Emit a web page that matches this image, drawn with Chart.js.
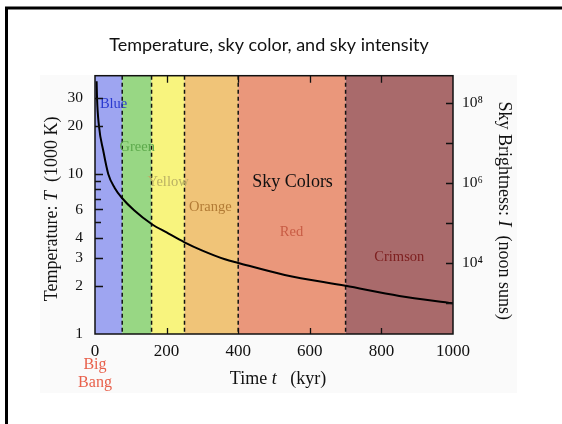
<!DOCTYPE html>
<html>
<head>
<meta charset="utf-8">
<script src="https://cdn.jsdelivr.net/npm/chart.js@4.4.1/dist/chart.umd.min.js"></script>
<style>
  html, body { margin: 0; padding: 0; background: #fff; }
  canvas { display: block; }
</style>
</head>
<body>
<canvas id="myChart" width="562" height="424"></canvas>
<script>
    /* Data */

var timeKyr = [4.5, 5.6, 11, 23, 37, 55, 76, 110, 158, 200, 250, 300, 363, 400, 530, 700, 850, 1000];
var tempK1000 = [38, 30, 20, 14, 10, 8.17, 7.05, 5.91, 4.87, 4.31, 3.74, 3.32, 2.93, 2.78, 2.34, 2.0, 1.73, 1.556];

var colorNames = ["Blue", "Green", "Yellow", "Orange", "Red", "Crimson"];
var colorEdges = [0, 76, 158, 250, 400, 700, 1000];

var xTicks = [0, 200, 400, 600, 800, 1000];
var tempTicks = [1, 2, 3, 4, 5, 6, 7, 8, 9, 10, 20, 30];
var tempLabels = [1, 2, 3, 4, 6, 10, 20, 30];
var skyTicks = [1e3, 1e4, 1e5, 1e6, 1e7, 1e8];
var skyLabels = { 10000: "10\u2074", 1000000: "10\u2076", 100000000: "10\u2078" };

    /* Look of the bands and their names */

var bandFill = ["#9ea5f1", "#98d784", "#f8f47e", "#f0c478", "#ea977b", "#a96a6b"];
var nameColor = ["#2a3ad0", "#5daa4c", "#b9b064", "#b27b35", "#c85c44", "#7e2020"];
var namePos = [[52, 27.3], [118, 14.7], [204, 8.87], [322, 6.16], [549, 4.30], [850, 3.0]];

var serif = "'Liberation Serif', 'Times New Roman', serif";

function drawParts(ctx, parts, cx, cy, angle) {
    var total = 0;
    parts.forEach(function (p) { ctx.font = p[1]; total += ctx.measureText(p[0]).width; });
    ctx.save();
    ctx.translate(cx, cy);
    ctx.rotate(angle);
    ctx.textAlign = "left";
    ctx.textBaseline = "middle";
    ctx.fillStyle = "#111";
    var x = -total / 2;
    parts.forEach(function (p) {
        ctx.font = p[1];
        ctx.fillText(p[0], x, 0);
        x += ctx.measureText(p[0]).width;
    });
    ctx.restore();
}

    /* Plugins: page frame, colour bands, ticks, titles */

var pagePlugin = {
    id: "page",
    beforeDraw: function (chart) {
        var ctx = chart.ctx;
        ctx.save();
        ctx.fillStyle = "#fff";
        ctx.fillRect(0, 0, chart.width, chart.height);
        ctx.fillStyle = "#fafafa";
        ctx.fillRect(40, 75, 477, 318);
        ctx.strokeStyle = "#000";
        ctx.lineWidth = 3;
        ctx.strokeRect(6.5, 8, 620, 480);
        ctx.fillStyle = "#111";
        ctx.font = "18px Lato, 'Open Sans', sans-serif";
        ctx.textAlign = "center";
        ctx.textBaseline = "middle";
        ctx.fillText("Temperature, sky color, and sky intensity", 269, 45);
        ctx.restore();
    }
};

var bandPlugin = {
    id: "bands",
    beforeDatasetsDraw: function (chart) {
        var ctx = chart.ctx, a = chart.chartArea;
        var xs = chart.scales.x, ys = chart.scales.y;
        ctx.save();
        for (var i = 0; i < colorNames.length; i++) {
            var x0 = xs.getPixelForValue(colorEdges[i]);
            var x1 = xs.getPixelForValue(colorEdges[i + 1]);
            ctx.fillStyle = bandFill[i];
            ctx.fillRect(x0, a.top, x1 - x0, a.bottom - a.top);
        }
        ctx.strokeStyle = "#111";
        ctx.lineWidth = 1.5;
        ctx.setLineDash([4, 3]);
        for (var j = 1; j < colorEdges.length - 1; j++) {
            var x = xs.getPixelForValue(colorEdges[j]);
            ctx.beginPath();
            ctx.moveTo(x, a.top);
            ctx.lineTo(x, a.bottom);
            ctx.stroke();
        }
        ctx.setLineDash([]);
        ctx.textAlign = "center";
        ctx.textBaseline = "middle";
        ctx.font = "14.5px " + serif;
        for (var k = 0; k < colorNames.length; k++) {
            ctx.fillStyle = nameColor[k];
            ctx.fillText(colorNames[k], xs.getPixelForValue(namePos[k][0]), ys.getPixelForValue(namePos[k][1]));
        }
        ctx.fillStyle = "#111";
        ctx.font = "18px " + serif;
        ctx.fillText("Sky Colors", xs.getPixelForValue(552), ys.getPixelForValue(8.91));
        ctx.restore();
    },
    afterDatasetsDraw: function (chart) {
        var ctx = chart.ctx, a = chart.chartArea;
        var xs = chart.scales.x, ys = chart.scales.y, ys2 = chart.scales.y2;
        ctx.save();
        ctx.strokeStyle = "#111";
        ctx.lineWidth = 1.3;
        ctx.beginPath();
        ys.ticks.forEach(function (t) {
            var y = Math.round(ys.getPixelForValue(t.value)) + 0.5;
            var len = tempLabels.indexOf(t.value) >= 0 ? 8 : 6;
            if (t.value === 1) return;
            ctx.moveTo(a.left, y);
            ctx.lineTo(a.left + len, y);
        });
        ys2.ticks.forEach(function (t) {
            var y = Math.round(ys2.getPixelForValue(t.value)) + 0.5;
            ctx.moveTo(a.right, y);
            ctx.lineTo(a.right - 7, y);
        });
        xTicks.forEach(function (v) {
            if (v === 0 || v === 1000) return;
            var x = Math.round(xs.getPixelForValue(v)) + 0.5;
            ctx.moveTo(x, a.bottom);
            ctx.lineTo(x, a.bottom - 6);
            ctx.moveTo(x, a.top);
            ctx.lineTo(x, a.top + 7);
        });
        ctx.stroke();
        ctx.lineWidth = 1.5;
        ctx.strokeRect(a.left, a.top, a.right - a.left, a.bottom - a.top);
        ctx.restore();
    },
    afterDraw: function (chart) {
        var ctx = chart.ctx, a = chart.chartArea, xs = chart.scales.x;
        var f = "18px " + serif, fi = "italic 18px " + serif;
        drawParts(ctx, [["Time ", f], ["t", fi], ["   (kyr)", f]], (a.left + a.right) / 2 + 4, a.bottom + 45, 0);
        drawParts(ctx, [["Temperature: ", f], ["T", fi], ["  (1000 K)", f]], 52, (a.top + a.bottom) / 2 + 4, -Math.PI / 2);
        drawParts(ctx, [["Sky Brightness: ", f], ["I", fi], ["  (noon suns)", f]], 504, (a.top + a.bottom) / 2 + 6, Math.PI / 2);
        ctx.save();
        ctx.fillStyle = "#e8604b";
        ctx.font = "16px " + serif;
        ctx.textAlign = "center";
        ctx.textBaseline = "middle";
        ctx.fillText("Big", xs.getPixelForValue(0), a.bottom + 31);
        ctx.fillText("Bang", xs.getPixelForValue(0), a.bottom + 49);
        ctx.restore();
    }
};

    /* Chart */

const ctx = document.getElementById("myChart").getContext("2d");

const myChart = new Chart(ctx, {
    type: "line",
    data: {
        datasets: [{
            data: timeKyr.map(function (t, i) { return { x: t, y: tempK1000[i] }; }),
            borderColor: "#000",
            borderWidth: 2,
            pointRadius: 0,
            cubicInterpolationMode: "monotone",
            fill: false
        }]
    },
    options: {
        responsive: false,
        animation: false,
        devicePixelRatio: 1,
        layout: { padding: { top: 75.7, left: 0, right: 0, bottom: 0 } },
        plugins: {
            legend: { display: false },
            tooltip: { enabled: false },
            title: { display: false }
        },
        scales: {
            x: {
                type: "linear",
                min: 0,
                max: 1000,
                grid: { display: false, drawTicks: false },
                border: { display: false },
                afterBuildTicks: function (s) { s.ticks = xTicks.map(function (v) { return { value: v }; }); },
                afterFit: function (s) { s.height = 90; },
                ticks: {
                    autoSkip: false,
                    padding: 7,
                    color: "#111",
                    font: { family: serif, size: 17 },
                    callback: function (v) { return String(v); }
                }
            },
            y: {
                type: "logarithmic",
                position: "left",
                min: 1,
                max: 41.1,
                grid: { display: false, drawTicks: false },
                border: { display: false },
                afterBuildTicks: function (s) { s.ticks = tempTicks.map(function (v) { return { value: v }; }); },
                afterFit: function (s) { s.width = 95; },
                ticks: {
                    autoSkip: false,
                    padding: 12,
                    color: "#111",
                    font: { family: serif, size: 15.5 },
                    callback: function (v) { return tempLabels.indexOf(v) >= 0 ? String(v) : ""; }
                }
            },
            y2: {
                type: "logarithmic",
                position: "right",
                min: 170.6,
                max: 4.87e8,
                grid: { display: false, drawTicks: false },
                border: { display: false },
                afterBuildTicks: function (s) { s.ticks = skyTicks.map(function (v) { return { value: v }; }); },
                afterFit: function (s) { s.width = 109; },
                ticks: {
                    autoSkip: false,
                    padding: 9,
                    color: "#111",
                    font: { family: serif, size: 15.5 },
                    callback: function (v) { return skyLabels[v] || ""; }
                }
            }
        }
    },
    plugins: [pagePlugin, bandPlugin]
});
</script>
</body>
</html>
